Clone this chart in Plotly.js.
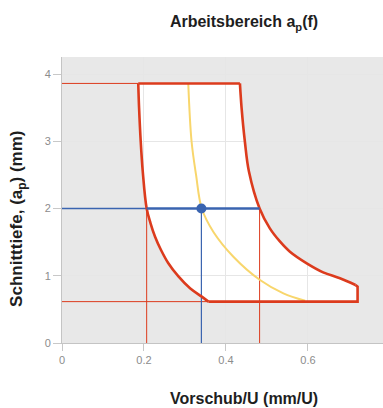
<!DOCTYPE html>
<html>
<head>
<meta charset="utf-8">
<script src="https://cdn.plot.ly/plotly-3.0.1.min.js"></script>
<style>html,body{margin:0;padding:0;background:#fff;overflow:hidden}</style>
</head>
<body>
<div id="chart"></div>
<script>
// Left boundary curve (top -> bottom)
const leftX = [0.186, 0.188, 0.192, 0.197, 0.2065, 0.216, 0.227, 0.2415, 0.259, 0.284, 0.313, 0.341, 0.357];
const leftY = [3.86, 3.5, 3.0, 2.55, 2.0, 1.78, 1.58, 1.383, 1.19, 0.99, 0.81, 0.69, 0.615];
// Right tip (bottom right corner)
const tipX = [0.721, 0.721];
const tipY = [0.615, 0.837];
// Right boundary curve (bottom -> top)
const rightX = [0.716, 0.678, 0.637, 0.597, 0.556, 0.532, 0.507, 0.482, 0.456, 0.446, 0.438, 0.434];
const rightY = [0.862, 0.962, 1.051, 1.185, 1.358, 1.507, 1.705, 2.0, 2.55, 3.0, 3.5, 3.86];
// Yellow curve
const yellowX = [0.308, 0.316, 0.327, 0.341, 0.369, 0.418, 0.483, 0.54, 0.593];
const yellowY = [3.86, 3.0, 2.5, 2.0, 1.655, 1.283, 0.937, 0.739, 0.629];
// Operating point and range at ap = 2
const opX = 0.34;
const opY = 2.0;
const opLeftX = 0.2065;
const opRightX = 0.482;
// Axis ticks
const xTicks = [0, 0.2, 0.4, 0.6];
const xTickText = ['0', '0.2', '0.4', '0.6'];
const yTicks = [0, 1, 2, 3, 4];
const yTickText = ['0', '1', '2', '3', '4'];

const RED = '#dc3b1d';
const BLUE = '#3a64b0';
const YELLOW = '#f8d66c';

const polyX = leftX.concat(tipX, rightX);
const polyY = leftY.concat(tipY, rightY);
let path = 'M ' + polyX[0] + ',' + polyY[0];
for (let i = 1; i < polyX.length; i++) path += ' L ' + polyX[i] + ',' + polyY[i];
path += ' Z';

const nL = leftX.length - 1;
const traces = [
  // thin red guide lines
  {x: [0, leftX[0]], y: [leftY[0], leftY[0]], mode: 'lines', line: {color: RED, width: 1}},
  {x: [0, leftX[nL]], y: [leftY[nL], leftY[nL]], mode: 'lines', line: {color: RED, width: 1}},
  {x: [opLeftX, opLeftX], y: [0, opY], mode: 'lines', line: {color: RED, width: 1}},
  {x: [opRightX, opRightX], y: [0, opY], mode: 'lines', line: {color: RED, width: 1}},
  // thin blue guide lines
  {x: [0, opLeftX], y: [opY, opY], mode: 'lines', line: {color: BLUE, width: 1.3}},
  {x: [opX, opX], y: [0, opY], mode: 'lines', line: {color: BLUE, width: 1.2}},
  // yellow curve
  {x: yellowX, y: yellowY, mode: 'lines', line: {color: YELLOW, width: 2, shape: 'spline'}},
  // boundary
  {x: leftX, y: leftY, mode: 'lines', line: {color: RED, width: 2.6, shape: 'spline'}},
  {x: rightX, y: rightY, mode: 'lines', line: {color: RED, width: 2.6, shape: 'spline'}},
  {x: [leftX[nL]].concat(tipX, [rightX[0]]), y: [leftY[nL]].concat(tipY, [rightY[0]]), mode: 'lines', line: {color: RED, width: 2.6}},
  {x: [rightX[rightX.length-1], leftX[0]], y: [rightY[rightY.length-1], leftY[0]], mode: 'lines', line: {color: RED, width: 2.6}},
  // working range at operating depth
  {x: [opLeftX, opRightX], y: [opY, opY], mode: 'lines', line: {color: BLUE, width: 2.6}},
  // operating point
  {x: [opX], y: [opY], mode: 'markers', marker: {color: BLUE, size: 10}}
];

const hTitleFont = {family: 'Liberation Sans, Arial, sans-serif', size: 16, color: '#1e1e1e', weight: 'bold'};
const vTitleFont = {family: 'Liberation Sans, Arial, sans-serif', size: 17, color: '#1e1e1e', weight: 'bold'};
const tickFont = {family: 'Liberation Sans, Arial, sans-serif', size: 11, color: '#8c8c8c'};

const layout = {
  width: 383, height: 408,
  margin: {l: 62, r: 0, t: 57, b: 65},
  paper_bgcolor: '#ffffff',
  plot_bgcolor: '#e8e8e8',
  showlegend: false,
  hovermode: false,
  title: {text: 'Arbeitsbereich a<sub>p</sub>(f)', font: hTitleFont, xref: 'paper', x: 0.567, xanchor: 'center', yref: 'container', y: 0.947, yanchor: 'middle'},
  xaxis: {
    range: [0, 0.783], tickvals: xTicks, ticktext: xTickText, tickfont: tickFont,
    showgrid: true, gridcolor: '#e6e6e6', gridwidth: 1, zeroline: false,
    showline: true, linecolor: '#c4c4c4', linewidth: 1,
    ticks: 'outside', ticklen: 7, tickcolor: '#c8c8c8', fixedrange: true
  },
  yaxis: {
    range: [0, 4.253], tickvals: yTicks, ticktext: yTickText, tickfont: tickFont,
    showgrid: true, gridcolor: '#e6e6e6', gridwidth: 1, zeroline: false,
    showline: true, linecolor: '#c4c4c4', linewidth: 1,
    ticks: 'outside', ticklen: 8, tickcolor: '#c8c8c8', fixedrange: true
  },
  shapes: [
    {type: 'path', path: path, xref: 'x', yref: 'y', layer: 'below', fillcolor: '#ffffff', line: {width: 0}}
  ],
  annotations: [
    {text: 'Vorschub/U (mm/U)', font: hTitleFont, showarrow: false, xref: 'paper', x: 0.567, xanchor: 'center', yref: 'paper', y: 0, yanchor: 'middle', yshift: -55},
    {text: 'Schnitttiefe, (a<sub>p</sub>) (mm)', font: vTitleFont, showarrow: false, textangle: -90, xref: 'paper', x: 0, xanchor: 'center', xshift: -44, yref: 'paper', y: 0.434, yanchor: 'middle'}
  ]
};

Plotly.newPlot('chart', traces, layout, {staticPlot: true, displayModeBar: false});
</script>
</body>
</html>
